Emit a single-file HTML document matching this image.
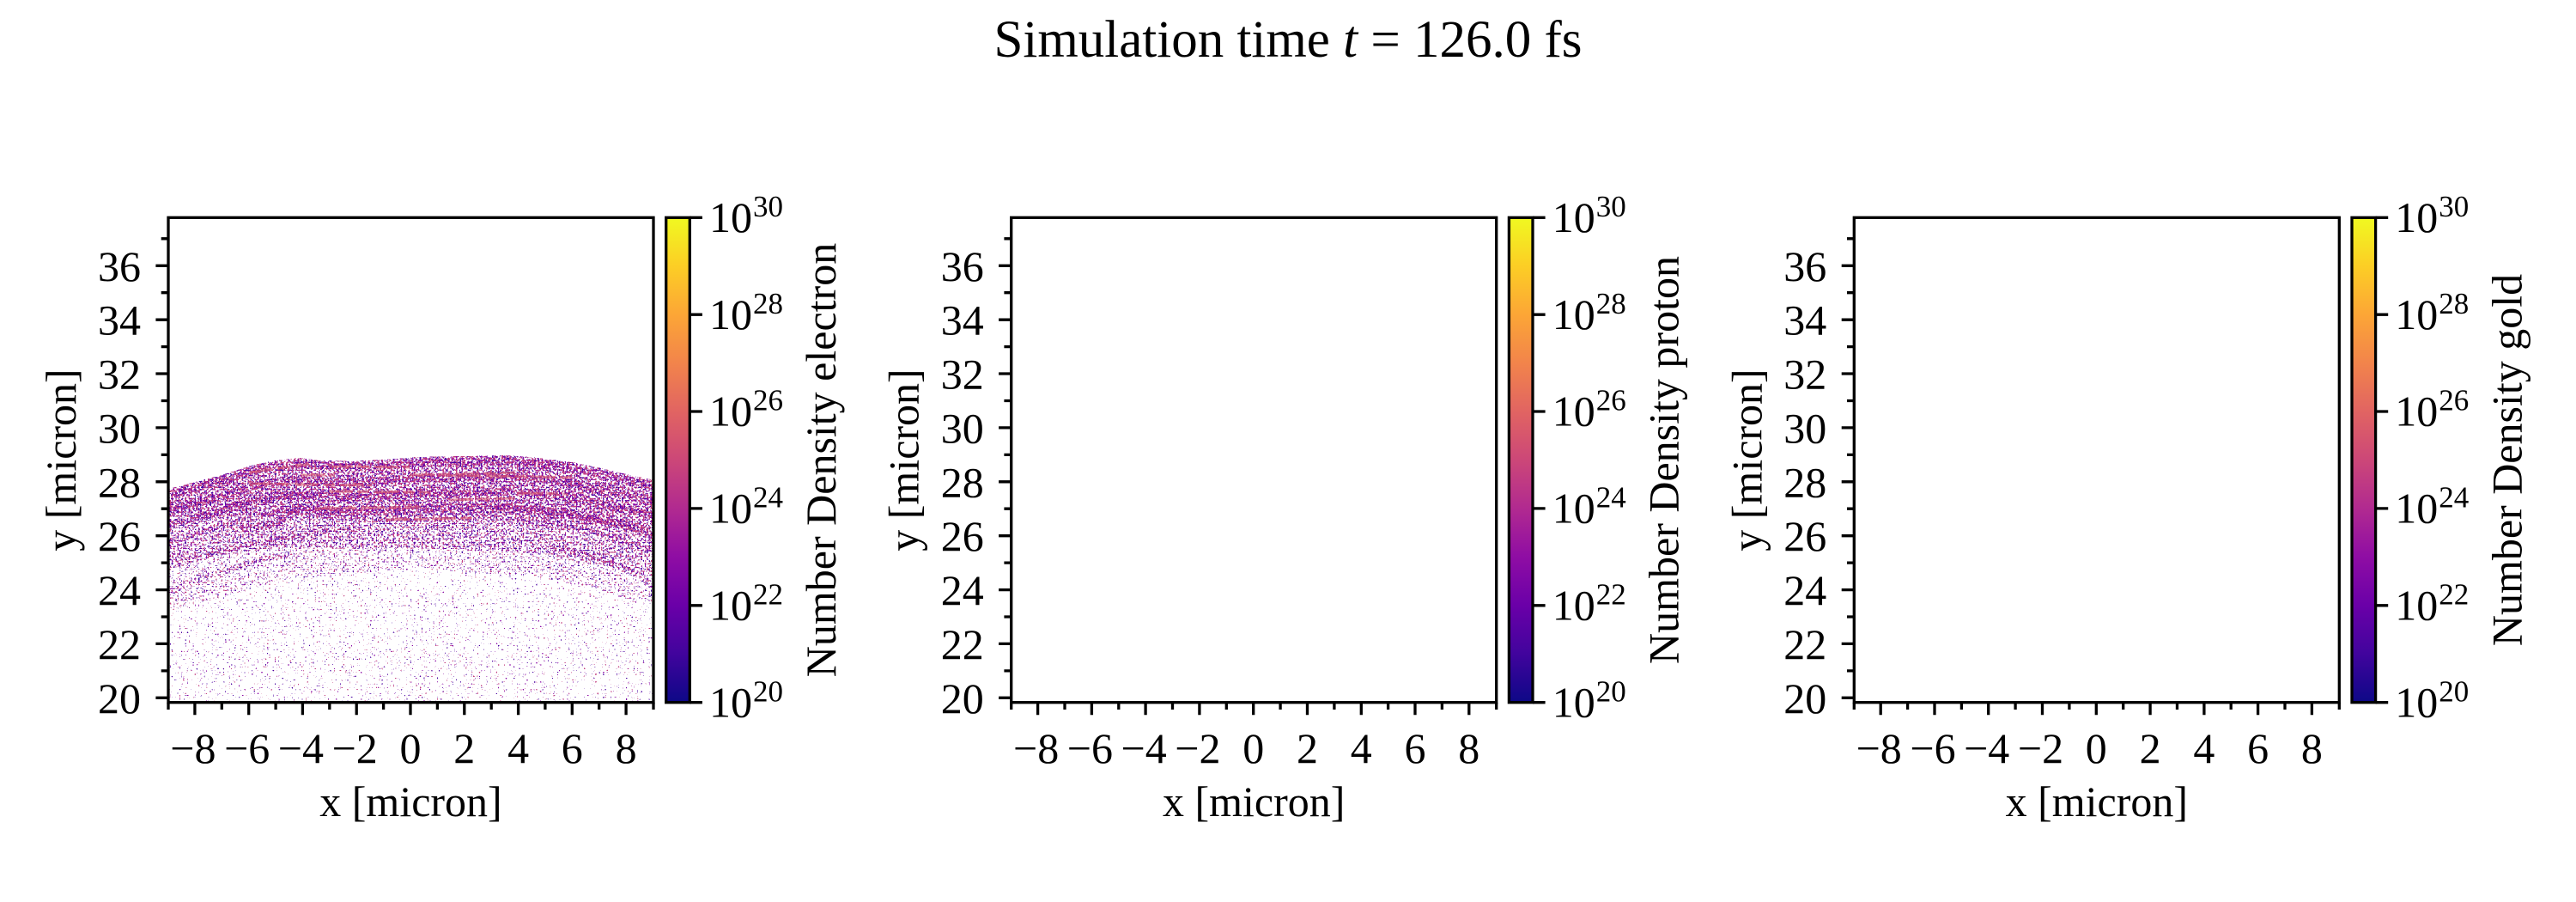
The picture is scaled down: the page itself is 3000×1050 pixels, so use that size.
<!DOCTYPE html>
<html>
<head>
<meta charset="utf-8">
<style>
html,body{margin:0;padding:0;background:#fff;}
svg{display:block;}
text{font-family:"Liberation Serif","DejaVu Serif",serif;fill:#000;}
.t{font-size:50px;}
.s{font-size:35px;}
</style>
</head>
<body>
<svg width="3000" height="1050" viewBox="0 0 3000 1050" xmlns="http://www.w3.org/2000/svg">
<defs>
<linearGradient id="plasma" x1="0" y1="1" x2="0" y2="0">
<stop offset="0" stop-color="#0d0887"/>
<stop offset="0.1" stop-color="#41049d"/>
<stop offset="0.2" stop-color="#6a00a8"/>
<stop offset="0.3" stop-color="#8f0da4"/>
<stop offset="0.4" stop-color="#b12a90"/>
<stop offset="0.5" stop-color="#cc4778"/>
<stop offset="0.6" stop-color="#e16462"/>
<stop offset="0.7" stop-color="#f2844b"/>
<stop offset="0.8" stop-color="#fca636"/>
<stop offset="0.9" stop-color="#fcce25"/>
<stop offset="1" stop-color="#f0f921"/>
</linearGradient>
<filter id="spk" filterUnits="userSpaceOnUse" x="197" y="520" width="563" height="297" color-interpolation-filters="sRGB">
<feTurbulence type="fractalNoise" baseFrequency="0.45" numOctaves="1" seed="3" result="n1"/>
<feColorMatrix in="n1" type="matrix" values="0 0 0 0 0  0 0 0 0 0  0 0 0 0 0  2 0 0 0 -0.5" result="a1"/>
<feComposite in="a1" in2="SourceAlpha" operator="arithmetic" k1="0" k2="1" k3="1" k4="-1" result="b1"/>
<feComponentTransfer in="b1" result="t1"><feFuncA type="discrete" tableValues="0 1"/></feComponentTransfer>
<feFlood flood-color="#8a0aa5" result="f1"/>
<feComposite in="f1" in2="t1" operator="in" result="c1"/>
<feTurbulence type="fractalNoise" baseFrequency="0.45" numOctaves="1" seed="11" result="n2"/>
<feColorMatrix in="n2" type="matrix" values="0 0 0 0 0  0 0 0 0 0  0 0 0 0 0  2 0 0 0 -0.5" result="a2"/>
<feComposite in="a2" in2="SourceAlpha" operator="arithmetic" k1="0" k2="1" k3="1" k4="-1" result="b2"/>
<feComponentTransfer in="b2" result="t2"><feFuncA type="discrete" tableValues="0 1"/></feComponentTransfer>
<feFlood flood-color="#c23e80" result="f2"/>
<feComposite in="f2" in2="t2" operator="in" result="c2"/>
<feTurbulence type="fractalNoise" baseFrequency="0.45" numOctaves="1" seed="23" result="n3"/>
<feColorMatrix in="n3" type="matrix" values="0 0 0 0 0  0 0 0 0 0  0 0 0 0 0  2 0 0 0 -0.5" result="a3"/>
<feComposite in="a3" in2="SourceAlpha" operator="arithmetic" k1="0" k2="1" k3="1" k4="-1" result="b3"/>
<feComponentTransfer in="b3" result="t3"><feFuncA type="discrete" tableValues="0 1"/></feComponentTransfer>
<feFlood flood-color="#4b03a1" result="f3"/>
<feComposite in="f3" in2="t3" operator="in" result="c3"/>
<feMerge><feMergeNode in="c3"/><feMergeNode in="c1"/><feMergeNode in="c2"/></feMerge>
</filter>
</defs>

<rect x="0" y="0" width="3000" height="1050" fill="#fff"/>

<!-- Title -->
<text x="1500" y="66" text-anchor="middle" style="font-size:61px">Simulation time <tspan font-style="italic">t</tspan> = 126.0 fs</text>

<!-- Electron data -->
<g filter="url(#spk)">
<path fill="#000" fill-opacity="0.82" d="M196,569 L256,553.5 L295,541 L320,536 L349,533 L372,535.7 L410,536.8 L449,534.7 L487,531.7 L545,530.7 L590,529.6 L628,533 L667,538 L705,546 L737,553.5 L762,558.6 L762,628 L700,612 L600,606 L480,608 L400,606 L300,600 L196,602 Z"/>
<path fill="#000" fill-opacity="0.74" d="M196,602 L300,600 L400,606 L480,608 L600,606 L700,612 L762,628 L762,672 L640,645 L480,638 L320,638 L196,655 Z"/>
<path fill="#000" fill-opacity="0.63" d="M196,655 L320,638 L480,638 L640,645 L762,672 L762,705 L630,672 L480,662 L330,675 L196,712 Z"/>
<path fill="#000" fill-opacity="0.54" d="M196,712 L330,675 L480,662 L630,672 L762,705 L762,818 L196,818 Z"/>
<g fill="none" stroke="#000" stroke-opacity="0.45" stroke-width="9">
<path transform="translate(0,7)" d="M196,569 L256,553.5 L295,541 L320,536 L349,533 L372,535.7 L410,536.8 L449,534.7 L487,531.7 L545,530.7 L590,529.6 L628,533 L667,538 L705,546 L737,553.5 L762,558.6"/>
<path transform="translate(0,25)" d="M196,569 L256,553.5 L295,541 L320,536 L349,533 L372,535.7 L410,536.8 L449,534.7 L487,531.7 L545,530.7 L590,529.6 L628,533 L667,538 L705,546 L737,553.5 L762,558.6"/>
<path transform="translate(0,42)" d="M196,569 L256,553.5 L295,541 L320,536 L349,533 L372,535.7 L410,536.8 L449,534.7 L487,531.7 L545,530.7 L590,529.6 L628,533 L667,538 L705,546 L737,553.5 L762,558.6"/>
<path transform="translate(0,60)" d="M280,556 L320,550 L349,533 L372,535.7 L410,536.8 L449,534.7 L487,531.7 L545,530.7 L590,529.6 L628,533 L667,538 L705,546 L737,553.5 L762,558.6"/>
</g>
<g fill="none" stroke="#000" stroke-opacity="0.32" stroke-width="7">
<path d="M196,632 Q290,598 385,587"/>
<path d="M196,660 Q300,625 417,615"/>
<path d="M762,622 Q690,600 577,590"/>
<path d="M762,642 Q700,615 609,607"/>
<path d="M762,683 Q720,650 641,637"/>
<path d="M196,690 Q260,660 340,645"/>
</g>
</g>
<g fill="none" stroke="#d4546f" stroke-width="3" opacity="0.6" stroke-dasharray="28 5 14 6">
<path d="M383,543 L477,544"/>
<path d="M350,553 L390,553"/>
<path d="M477,553 L537,552 L600,550"/>
<path d="M290,563 L433,565"/>
<path d="M383,572 L500,573"/>
<path d="M367,592 L490,590"/>
<path d="M450,605 L550,603"/>
<path d="M523,582 L600,580"/>
<path d="M513,553 L673,556"/>
<path d="M603,574 L660,575"/>
<path d="M290,550 L360,540"/>
</g>

<!-- Panel 1 -->
<g>
<rect x="196" y="253.3" width="565" height="564.4" fill="none" stroke="#000" stroke-width="3.3"/>
<rect x="775.7" y="253.3" width="27.6" height="564.4" fill="url(#plasma)" stroke="#000" stroke-width="3.3"/>
<path fill="none" stroke="#000" stroke-width="3.3" d="M181.4,812.3H196M181.4,749.4H196M181.4,686.6H196M181.4,623.7H196M181.4,560.8H196M181.4,497.9H196M181.4,435H196M181.4,372.2H196M181.4,309.3H196M187.7,780.9H196M187.7,718H196M187.7,655.1H196M187.7,592.2H196M187.7,529.4H196M187.7,466.5H196M187.7,403.6H196M187.7,340.7H196M187.7,277.8H196M226.9,817.7V832.3M289.7,817.7V832.3M352.4,817.7V832.3M415.2,817.7V832.3M478,817.7V832.3M540.8,817.7V832.3M603.6,817.7V832.3M666.3,817.7V832.3M729.1,817.7V832.3M196,817.7V826M258.3,817.7V826M321.1,817.7V826M383.8,817.7V826M446.6,817.7V826M509.4,817.7V826M572.2,817.7V826M634.9,817.7V826M697.7,817.7V826M761,817.7V826M803.3,817.7H817.9M803.3,704.8H817.9M803.3,591.9H817.9M803.3,479H817.9M803.3,366.2H817.9M803.3,253.3H817.9"/>
<g class="t" text-anchor="end">
<text x="164" y="829.8">20</text><text x="164" y="766.9">22</text><text x="164" y="704.1">24</text><text x="164" y="641.2">26</text><text x="164" y="578.3">28</text><text x="164" y="515.4">30</text><text x="164" y="452.5">32</text><text x="164" y="389.7">34</text><text x="164" y="326.8">36</text>
</g>
<g class="t" text-anchor="middle">
<text x="224.9" y="888">−8</text><text x="287.7" y="888">−6</text><text x="350.4" y="888">−4</text><text x="413.2" y="888">−2</text><text x="478" y="888">0</text><text x="540.8" y="888">2</text><text x="603.6" y="888">4</text><text x="666.3" y="888">6</text><text x="729.1" y="888">8</text>
</g>
<g class="t">
<text x="826" y="834.4">10</text><text x="826" y="721.5">10</text><text x="826" y="608.6">10</text><text x="826" y="495.7">10</text><text x="826" y="382.9">10</text><text x="826" y="270">10</text>
</g>
<g class="s">
<text x="877" y="816.4">20</text><text x="877" y="703.5">22</text><text x="877" y="590.6">24</text><text x="877" y="477.7">26</text><text x="877" y="364.9">28</text><text x="877" y="252">30</text>
</g>
<text class="t" x="478.5" y="950" text-anchor="middle">x [micron]</text>
<text class="t" transform="translate(88,535.5) rotate(-90)" text-anchor="middle">y [micron]</text>
<text class="t" transform="translate(973,535.5) rotate(-90)" text-anchor="middle">Number Density electron</text>
</g>

<!-- Panel 2 -->
<g transform="translate(981.7,0)">
<rect x="196" y="253.3" width="565" height="564.4" fill="none" stroke="#000" stroke-width="3.3"/>
<rect x="775.7" y="253.3" width="27.6" height="564.4" fill="url(#plasma)" stroke="#000" stroke-width="3.3"/>
<path fill="none" stroke="#000" stroke-width="3.3" d="M181.4,812.3H196M181.4,749.4H196M181.4,686.6H196M181.4,623.7H196M181.4,560.8H196M181.4,497.9H196M181.4,435H196M181.4,372.2H196M181.4,309.3H196M187.7,780.9H196M187.7,718H196M187.7,655.1H196M187.7,592.2H196M187.7,529.4H196M187.7,466.5H196M187.7,403.6H196M187.7,340.7H196M187.7,277.8H196M226.9,817.7V832.3M289.7,817.7V832.3M352.4,817.7V832.3M415.2,817.7V832.3M478,817.7V832.3M540.8,817.7V832.3M603.6,817.7V832.3M666.3,817.7V832.3M729.1,817.7V832.3M196,817.7V826M258.3,817.7V826M321.1,817.7V826M383.8,817.7V826M446.6,817.7V826M509.4,817.7V826M572.2,817.7V826M634.9,817.7V826M697.7,817.7V826M761,817.7V826M803.3,817.7H817.9M803.3,704.8H817.9M803.3,591.9H817.9M803.3,479H817.9M803.3,366.2H817.9M803.3,253.3H817.9"/>
<g class="t" text-anchor="end">
<text x="164" y="829.8">20</text><text x="164" y="766.9">22</text><text x="164" y="704.1">24</text><text x="164" y="641.2">26</text><text x="164" y="578.3">28</text><text x="164" y="515.4">30</text><text x="164" y="452.5">32</text><text x="164" y="389.7">34</text><text x="164" y="326.8">36</text>
</g>
<g class="t" text-anchor="middle">
<text x="224.9" y="888">−8</text><text x="287.7" y="888">−6</text><text x="350.4" y="888">−4</text><text x="413.2" y="888">−2</text><text x="478" y="888">0</text><text x="540.8" y="888">2</text><text x="603.6" y="888">4</text><text x="666.3" y="888">6</text><text x="729.1" y="888">8</text>
</g>
<g class="t">
<text x="826" y="834.4">10</text><text x="826" y="721.5">10</text><text x="826" y="608.6">10</text><text x="826" y="495.7">10</text><text x="826" y="382.9">10</text><text x="826" y="270">10</text>
</g>
<g class="s">
<text x="877" y="816.4">20</text><text x="877" y="703.5">22</text><text x="877" y="590.6">24</text><text x="877" y="477.7">26</text><text x="877" y="364.9">28</text><text x="877" y="252">30</text>
</g>
<text class="t" x="478.5" y="950" text-anchor="middle">x [micron]</text>
<text class="t" transform="translate(88,535.5) rotate(-90)" text-anchor="middle">y [micron]</text>
<text class="t" transform="translate(973,535.5) rotate(-90)" text-anchor="middle">Number Density proton</text>
</g>

<!-- Panel 3 -->
<g transform="translate(1963.3,0)">
<rect x="196" y="253.3" width="565" height="564.4" fill="none" stroke="#000" stroke-width="3.3"/>
<rect x="775.7" y="253.3" width="27.6" height="564.4" fill="url(#plasma)" stroke="#000" stroke-width="3.3"/>
<path fill="none" stroke="#000" stroke-width="3.3" d="M181.4,812.3H196M181.4,749.4H196M181.4,686.6H196M181.4,623.7H196M181.4,560.8H196M181.4,497.9H196M181.4,435H196M181.4,372.2H196M181.4,309.3H196M187.7,780.9H196M187.7,718H196M187.7,655.1H196M187.7,592.2H196M187.7,529.4H196M187.7,466.5H196M187.7,403.6H196M187.7,340.7H196M187.7,277.8H196M226.9,817.7V832.3M289.7,817.7V832.3M352.4,817.7V832.3M415.2,817.7V832.3M478,817.7V832.3M540.8,817.7V832.3M603.6,817.7V832.3M666.3,817.7V832.3M729.1,817.7V832.3M196,817.7V826M258.3,817.7V826M321.1,817.7V826M383.8,817.7V826M446.6,817.7V826M509.4,817.7V826M572.2,817.7V826M634.9,817.7V826M697.7,817.7V826M761,817.7V826M803.3,817.7H817.9M803.3,704.8H817.9M803.3,591.9H817.9M803.3,479H817.9M803.3,366.2H817.9M803.3,253.3H817.9"/>
<g class="t" text-anchor="end">
<text x="164" y="829.8">20</text><text x="164" y="766.9">22</text><text x="164" y="704.1">24</text><text x="164" y="641.2">26</text><text x="164" y="578.3">28</text><text x="164" y="515.4">30</text><text x="164" y="452.5">32</text><text x="164" y="389.7">34</text><text x="164" y="326.8">36</text>
</g>
<g class="t" text-anchor="middle">
<text x="224.9" y="888">−8</text><text x="287.7" y="888">−6</text><text x="350.4" y="888">−4</text><text x="413.2" y="888">−2</text><text x="478" y="888">0</text><text x="540.8" y="888">2</text><text x="603.6" y="888">4</text><text x="666.3" y="888">6</text><text x="729.1" y="888">8</text>
</g>
<g class="t">
<text x="826" y="834.4">10</text><text x="826" y="721.5">10</text><text x="826" y="608.6">10</text><text x="826" y="495.7">10</text><text x="826" y="382.9">10</text><text x="826" y="270">10</text>
</g>
<g class="s">
<text x="877" y="816.4">20</text><text x="877" y="703.5">22</text><text x="877" y="590.6">24</text><text x="877" y="477.7">26</text><text x="877" y="364.9">28</text><text x="877" y="252">30</text>
</g>
<text class="t" x="478.5" y="950" text-anchor="middle">x [micron]</text>
<text class="t" transform="translate(88,535.5) rotate(-90)" text-anchor="middle">y [micron]</text>
<text class="t" transform="translate(973,535.5) rotate(-90)" text-anchor="middle">Number Density gold</text>
</g>
</svg>
</body>
</html>
